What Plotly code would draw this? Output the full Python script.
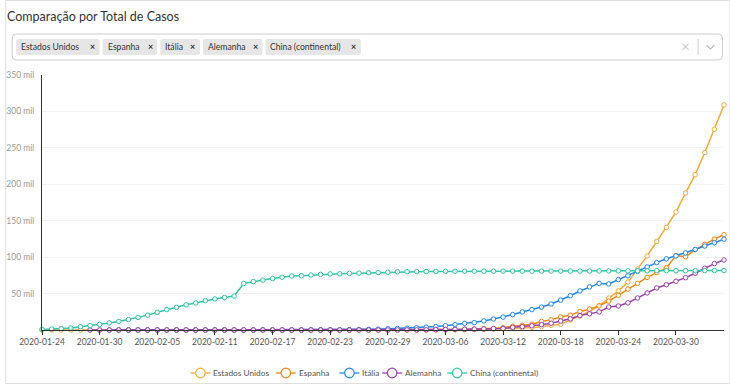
import plotly.graph_objects as go
import datetime as dt

# ---------------- data ----------------
start = dt.date(2020, 1, 24)
dates = [(start + dt.timedelta(days=i)).isoformat() for i in range(72)]

series_names = ["Estados Unidos", "Espanha", "Itália", "Alemanha", "China (continental)"]
tag_labels = ["Estados Unidos", "Espanha", "Itália", "Alemanha", "China (continental)"]

us = ([2, 2, 5, 5, 5, 5, 5, 7] +
      [8, 8, 11, 11, 11, 12, 12, 12, 12, 12, 13, 13, 15, 15, 15, 15, 15, 15, 15, 15,
       35, 35, 35, 53, 53, 59, 60, 62, 70] +
      [76, 101, 122, 153, 221, 278, 417, 537, 605, 959, 1281, 1663, 2179, 2726, 3499,
       4632, 6421, 7786, 13680, 19101, 25493, 33276, 43847, 53740, 65778, 83836,
       101657, 121465, 140909, 161831, 188172] +
      [213242, 243622, 275586, 308850])

spain = ([None] * 8 +
         [1] * 8 + [2] * 16 + [6, 13, 15, 32, 45] +
         [84, 120, 165, 222, 259, 400, 500, 673, 1073, 1695, 2277, 3146, 5232, 6391, 7798,
          11748, 13910, 17963, 20410, 25374, 28603, 33089, 39673, 47610, 56188, 64059,
          72248, 78797, 85195, 102136, 100400] +
         [110238, 117710, 124736, 130759])

italy = ([None] * 7 +
         [2] + [2] * 6 + [3] * 13 +
         [20, 79, 155, 229, 322, 453, 655, 888, 1128, 1694] +
         [2036, 2502, 3089, 3858, 4636, 5883, 7375, 9172, 10149, 12462, 15113, 17660,
          21157, 24747, 27980, 31506, 35713, 41035, 47021, 53578, 59138, 63927, 63200,
          69176, 74386, 80589, 86498, 92472, 97689, 101739, 105792] +
         [110574, 115242, 119827, 124632])

germany = ([None] * 5 +
           [4, 4, 5] +
           [8, 10, 12, 12, 12, 12, 13, 13, 14, 14, 16] + [16] * 13 + [17, 27, 46, 48, 79] +
           [130, 159, 196, 262, 482, 670, 799, 1040, 1176, 1457, 1908, 2078, 3675, 4585,
            5795, 7272, 9257, 12327, 15320, 19848, 22213, 24873, 31554, 32986, 37323,
            43938, 50871, 57695, 62095, 66885, 71808] +
           [77872, 84794, 91159, 96092])

china = ([830, 1287, 1975, 2744, 4515, 5974, 7711, 9692] +
         [11791, 14380, 17205, 20438, 24324, 28018, 31161, 34546, 37198, 40171, 42638,
          44653, 46550, 63851, 66492, 68500, 70548, 72436, 74185, 74576, 75465, 76288,
          76936, 77150, 77658, 78064, 78497, 78824, 79251] +
         [79824, 80026, 80151, 80270, 80409, 80552, 80651, 80695, 80735, 80754, 80778,
          80793, 80813, 80824, 80844, 80860, 80881, 80894, 80928, 80967, 81008, 81054,
          81093, 81171, 81218, 81285, 81340, 81394, 81439, 81470, 81518] +
         [81554, 81589, 81620, 81639])

y_tickvals = [50000, 100000, 150000, 200000, 250000, 300000, 350000]
y_ticktext = ["50 mil", "100 mil", "150 mil", "200 mil", "250 mil", "300 mil", "350 mil"]
x_ticks = dates[::6]

colors = ["#f2aa40", "#f7860f", "#1f88f2", "#9b40aa", "#2ec6a6"]
all_series = [us, spain, italy, germany, china]

# ---------------- layout geometry ----------------
W, H = 730, 385
L, R, T, B = 37, 6.4, 75, 55
PW, PH = W - L - R, H - T - B


def px(x):
    return (x - L) / PW


def py(y):
    return (H - B - y) / PH


FONT = "Lato, 'Open Sans', sans-serif"

fig = go.Figure()
for name, vals, col in zip(series_names, all_series, colors):
    fig.add_trace(go.Scatter(
        x=dates, y=vals, name=name, mode="lines+markers",
        line=dict(color=col, width=1.5),
        marker=dict(symbol="circle", size=4.5, color="white", line=dict(color=col, width=1)),
        cliponaxis=False, showlegend=False, connectgaps=False,
    ))

shapes = []
annotations = []

# outer panel border
shapes.append(dict(type="rect", xref="paper", yref="paper",
                   x0=px(0.5), x1=px(729.5), y0=py(0.5), y1=py(383.5),
                   line=dict(color="#dedede", width=1), layer="below"))


def rrect(x0, y0, x1, y1, r):
    X0, X1 = px(x0), px(x1)
    Y0, Y1 = py(y0), py(y1)
    rx = r / PW
    ry = r / PH
    return (f"M {X0+rx},{Y0} L {X1-rx},{Y0} Q {X1},{Y0} {X1},{Y0-ry} "
            f"L {X1},{Y1+ry} Q {X1},{Y1} {X1-rx},{Y1} L {X0+rx},{Y1} "
            f"Q {X0},{Y1} {X0},{Y1+ry} L {X0},{Y0-ry} Q {X0},{Y0} {X0+rx},{Y0} Z")


# select box
shapes.append(dict(type="path", xref="paper", yref="paper", path=rrect(7, 34, 722, 60, 4),
                   line=dict(color="#cccccc", width=1), fillcolor="white"))

# tags
tag_boxes = [(11, 95), (98, 153), (156, 196), (199, 259), (262, 358)]
for lab, (a, b) in zip(tag_labels, tag_boxes):
    shapes.append(dict(type="path", xref="paper", yref="paper", path=rrect(a, 39, b, 55, 2),
                       line=dict(width=0), fillcolor="#e6e6e6"))
    annotations.append(dict(xref="paper", yref="paper", x=px(a + 3), y=py(47.5),
                            text=lab, showarrow=False, xanchor="left", yanchor="middle",
                            font=dict(family=FONT, size=8.6, color="#333333")))
    annotations.append(dict(xref="paper", yref="paper", x=px(b - 7), y=py(46.5),
                            text="<b>×</b>", showarrow=False, xanchor="center", yanchor="middle",
                            font=dict(family=FONT, size=9, color="#333333")))

# clear x, separator, chevron
annotations.append(dict(xref="paper", yref="paper", x=px(685), y=py(46.5), text="×",
                        showarrow=False, xanchor="center", yanchor="middle",
                        font=dict(family=FONT, size=15, color="#cccccc")))
shapes.append(dict(type="line", xref="paper", yref="paper", x0=px(697.5), x1=px(697.5),
                   y0=py(39), y1=py(55), line=dict(color="#cccccc", width=1)))
shapes.append(dict(type="path", xref="paper", yref="paper",
                   path=f"M {px(706)},{py(45)} L {px(710)},{py(49)} L {px(714)},{py(45)}",
                   line=dict(color="#bbbbbb", width=1.2)))

# title
annotations.append(dict(xref="paper", yref="paper", x=px(0), y=py(17),
                        text="Comparação por Total de Casos", showarrow=False,
                        xanchor="left", yanchor="middle",
                        font=dict(family=FONT, size=12.5, color="#333333")))

# legend (drawn manually to match the compact symbol style)
legend_centers = [196.5, 282.5, 346.5, 389.5, 455.0]
LY = 373
for name, col, c in zip(series_names, colors, legend_centers):
    shapes.append(dict(type="line", xref="paper", yref="paper", x0=px(c - 10), x1=px(c + 10),
                       y0=py(LY), y1=py(LY), line=dict(color=col, width=1.3)))
    shapes.append(dict(type="circle", xref="paper", yref="paper",
                       x0=px(c - 4.8), x1=px(c + 4.8), y0=py(LY + 4.8), y1=py(LY - 4.8),
                       line=dict(color=col, width=1.2), fillcolor="white"))
    annotations.append(dict(xref="paper", yref="paper", x=px(c + 11), y=py(LY),
                            text=name, showarrow=False, xanchor="left", yanchor="middle",
                            font=dict(family=FONT, size=8.3, color="#555555")))

fig.update_layout(
    width=W, height=H, autosize=False,
    margin=dict(l=L, r=R, t=T, b=B, pad=0),
    paper_bgcolor="white", plot_bgcolor="white",
    font=dict(family=FONT, size=9, color="#333"),
    shapes=shapes, annotations=annotations,
    showlegend=False,
    xaxis=dict(type="category", range=[0, 71], tickmode="array",
               tickvals=x_ticks, ticktext=x_ticks,
               showgrid=False, zeroline=False, showline=True, linecolor="#333333", linewidth=1,
               ticks="outside", ticklen=4, tickcolor="#333333",
               tickfont=dict(family=FONT, size=8.5, color="#555555"), tickangle=0),
    yaxis=dict(range=[0, 350000], tickmode="array", tickvals=y_tickvals, ticktext=y_ticktext,
               showgrid=True, gridcolor="#f2f2f2", gridwidth=1, zeroline=False,
               showline=True, linecolor="#333333", linewidth=1, ticks="",
               ticklabelstandoff=5,
               tickfont=dict(family=FONT, size=8.5, color="#999999")),
)

fig.write_html("out.html", config={"displayModeBar": False},
               post_script="document.body.style.margin='0px';document.body.style.overflow='hidden';")
